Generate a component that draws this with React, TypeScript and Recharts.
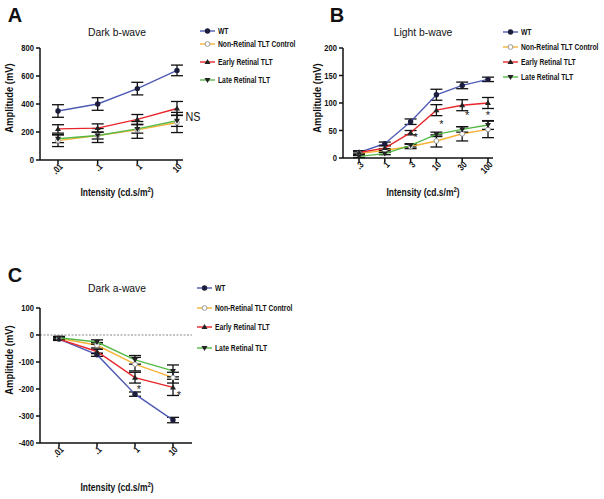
import React from "react";
import { LineChart, Line, XAxis, YAxis, ErrorBar, ReferenceLine } from "recharts";

// legend names
const seriesNames = ["WT", "Non-Retinal TLT Control", "Early Retinal TLT", "Late Retinal TLT"];

// A: dark b-wave
const darkBCats = [".01", ".1", "1", "10"];
const darkBWt = [350, 400, 510, 640];
const darkBWtErr = [45, 45, 45, 38];
const darkBCtrl = [138, 175, 215, 268];
const darkBCtrlErr = [42, 50, 60, 72];
const darkBEarly = [222, 228, 290, 368];
const darkBEarlyErr = [30, 30, 35, 50];
const darkBLate = [152, 175, 222, 280];
const darkBLateErr = [28, 25, 30, 40];
const darkBTicks = [0, 200, 400, 600, 800];

// B: light b-wave
const lightBCats = [".3", "1", "3", "10", "30", "100"];
const lightBWt = [10, 26, 66, 115, 132, 143];
const lightBWtErr = [3, 3, 5, 10, 6, 4];
const lightBCtrl = [8, 14, 21, 31, 44, 52];
const lightBCtrlErr = [3, 3, 4, 11, 13, 15];
const lightBEarly = [10, 18, 46, 87, 96, 100];
const lightBEarlyErr = [3, 4, 4, 10, 10, 10];
const lightBLate = [3, 8, 23, 43, 52, 60];
const lightBLateErr = [2, 2, 3, 4, 5, 8];
const lightBStars = [null, null, 44, 67, 84, 84];
const lightBTicks = [0, 50, 100, 150, 200];

// C: dark a-wave
const darkACats = [".01", ".1", "1", "10"];
const darkAWt = [-15, -73, -219, -315];
const darkAWtErr = [5, 6, 8, 10];
const darkACtrl = [-12, -38, -108, -158];
const darkACtrlErr = [5, 10, 25, 20];
const darkAEarly = [-15, -61, -158, -194];
const darkAEarlyErr = [5, 8, 20, 30];
const darkALate = [-10, -26, -92, -133];
const darkALateErr = [5, 8, 16, 22];
const darkAStars = [null, null, -189, -211];
const darkATicks = [-400, -300, -200, -100, 0, 100];

const colors = ["#4f5bb4", "#f6b338", "#e8262b", "#55b947"];
const FONT = "'Liberation Sans', Arial, sans-serif";

function rows(cats: string[], s: number[][], e: number[][], stars?: (number | null)[]) {
  return cats.map((c, i) => ({
    cat: c,
    wt: s[0][i], wtErr: e[0][i],
    ctrl: s[1][i], ctrlErr: e[1][i],
    early: s[2][i], earlyErr: e[2][i],
    late: s[3][i], lateErr: e[3][i],
    star: stars ? stars[i] : null,
  }));
}

function Marker({ kind, cx, cy }: { kind: number; cx: number; cy: number }) {
  if (cx == null || cy == null) return <g />;
  if (kind === 0) return <circle cx={cx} cy={cy} r={2.7} fill="#1c1c3c" />;
  if (kind === 1) return <circle cx={cx} cy={cy} r={2.4} fill="#fff" stroke="#999" strokeWidth={1} />;
  if (kind === 2)
    return <path d={`M${cx},${cy - 3}L${cx + 3},${cy + 2}L${cx - 3},${cy + 2}Z`} fill="#222" />;
  return <path d={`M${cx},${cy + 3}L${cx + 3},${cy - 2}L${cx - 3},${cy - 2}Z`} fill="#222" />;
}

const RotTick = (props: any) => {
  const { x, y, payload } = props;
  return (
    <g transform={`translate(${x + 3},${y - 1}) rotate(-45) scale(0.8,1)`}>
      <text x={0} y={0} dy="0.35em" textAnchor="end"
        fontSize={9.5} fontWeight="bold" fontFamily={FONT} fill="#111">
        {payload.value}
      </text>
    </g>
  );
};

const YTick = (props: any) => {
  const { x, y, payload } = props;
  return (
    <g transform={`translate(${x},${y}) scale(0.8,1)`}>
      <text x={0} y={0} dy="0.35em" textAnchor="end"
        fontSize={9.5} fontWeight="bold" fontFamily={FONT} fill="#111">
        {payload.value}
      </text>
    </g>
  );
};

const starDot = (dx: number[]) => (p: any) => {
  if (p.value == null || p.cy == null) return <g key={p.index} />;
  return (
    <text key={p.index} x={p.cx + dx[p.index]} y={p.cy + 7} fontSize={11} fontFamily={FONT}
      textAnchor="middle" fill="#222">*</text>
  );
};

function Panel(props: {
  data: any[]; ticks: number[]; domain: [number, number];
  left: number; top: number; width: number; height: number;
  margin: any; yWidth: number; pad: { left: number; right: number };
  starDx?: number[]; zeroLine?: boolean;
}) {
  const keys = ["wt", "ctrl", "early", "late"];
  return (
    <div style={{ position: "absolute", left: props.left, top: props.top }}>
      <LineChart width={props.width} height={props.height} data={props.data} margin={props.margin}>
        <XAxis dataKey="cat" padding={props.pad} height={30} tick={<RotTick />}
          stroke="#111" strokeWidth={1.5} tickSize={4} interval={0} />
        <YAxis domain={props.domain} ticks={props.ticks} width={props.yWidth} interval={0}
          stroke="#111" strokeWidth={1.5} tickSize={4} tickMargin={2} tick={<YTick />} />
        {props.zeroLine && <ReferenceLine y={0} stroke="#888" strokeDasharray="2 1.5" strokeWidth={1.2} />}
        {keys.map((k, i) => (
          <Line key={k} dataKey={k} stroke={colors[i]} strokeWidth={1.4} isAnimationActive={false}
            dot={(p: any) => <Marker key={p.index} kind={i} cx={p.cx} cy={p.cy} />} activeDot={false}>
            <ErrorBar dataKey={k + "Err"} width={6} stroke="#111" strokeWidth={1.3} />
          </Line>
        ))}
        {props.starDx && (
          <Line dataKey="star" stroke="none" isAnimationActive={false} dot={starDot(props.starDx)}
            activeDot={false} legendType="none" />
        )}
      </LineChart>
    </div>
  );
}

function Legend({ left, top, gaps }: { left: number; top: number; gaps: number[] }) {
  return (
    <>
      {seriesNames.map((n, i) => (
        <div key={n} style={{ position: "absolute", left, top: top + gaps[i] - 6, display: "flex",
          alignItems: "center", height: 12, fontSize: 9, fontWeight: "bold", color: "#111", whiteSpace: "nowrap" }}>
          <svg width={17} height={12} style={{ marginRight: 2 }}>
            <line x1={1} x2={16} y1={6} y2={6} stroke={colors[i]} strokeWidth={1.4} />
            <Marker kind={i} cx={8.5} cy={6} />
          </svg>
          <span style={{ display: "inline-block", transform: "scaleX(0.75)", transformOrigin: "left center" }}>{n}</span>
        </div>
      ))}
    </>
  );
}

function Txt({ x, y, size, bold, rot, sx = 1, children }: any) {
  return (
    <div style={{ position: "absolute", left: x, top: y,
      transform: `translate(-50%,-50%)${rot ? " rotate(-90deg)" : ""} scaleX(${sx})`,
      fontSize: size, fontWeight: bold ? "bold" : "normal", whiteSpace: "nowrap", color: "#111", lineHeight: 1 }}>
      {children}
    </div>
  );
}

export default function App() {
  const a = rows(darkBCats, [darkBWt, darkBCtrl, darkBEarly, darkBLate],
    [darkBWtErr, darkBCtrlErr, darkBEarlyErr, darkBLateErr]);
  const b = rows(lightBCats, [lightBWt, lightBCtrl, lightBEarly, lightBLate],
    [lightBWtErr, lightBCtrlErr, lightBEarlyErr, lightBLateErr], lightBStars);
  const c = rows(darkACats, [darkAWt, darkACtrl, darkAEarly, darkALate],
    [darkAWtErr, darkACtrlErr, darkAEarlyErr, darkALateErr], darkAStars);
  const xLabel = <>Intensity (cd.s/m<sup style={{ fontSize: 7, verticalAlign: "4px" }}>2</sup>)</>;
  return (
    <div style={{ position: "fixed", left: 0, top: 0, width: 604, height: 499, background: "#fff",
      fontFamily: FONT, overflow: "hidden" }}>
      {/* A */}
      <Txt x={15} y={15} size={20} bold>A</Txt>
      <Txt x={117} y={33} size={11.5} sx={0.9}>Dark b-wave</Txt>
      <Txt x={10} y={98} size={10} bold rot sx={0.94}>Amplitude (mV)</Txt>
      <Txt x={117} y={192} size={10} bold sx={0.85}>{xLabel}</Txt>
      <Txt x={193} y={117} size={12} sx={0.9}>NS</Txt>
      <Panel data={a} ticks={darkBTicks} domain={[0, 800]} left={0} top={0} width={200} height={215}
        margin={{ top: 48, right: 17, left: 0, bottom: 25 }} yWidth={40} pad={{ left: 18, right: 6 }} />
      <Legend left={199} top={0} gaps={[31, 44, 62, 80]} />

      {/* B */}
      <Txt x={337} y={15} size={20} bold>B</Txt>
      <Txt x={423} y={33} size={11.5} sx={0.9}>Light b-wave</Txt>
      <Txt x={318} y={98} size={10} bold rot sx={0.94}>Amplitude (mV)</Txt>
      <Txt x={423} y={192} size={10} bold sx={0.85}>{xLabel}</Txt>
      <Panel data={b} ticks={lightBTicks} domain={[0, 200]} left={300} top={0} width={200} height={215}
        margin={{ top: 48, right: 7, left: 0, bottom: 27 }} yWidth={43} pad={{ left: 16, right: 5 }}
        starDx={[0, 0, 5, 5, 5, 0]} />
      <Legend left={502} top={0} gaps={[32, 47, 62, 77]} />

      {/* C */}
      <Txt x={15} y={275} size={20} bold>C</Txt>
      <Txt x={117} y={289} size={11.5} sx={0.9}>Dark a-wave</Txt>
      <Txt x={10} y={360} size={10} bold rot sx={0.94}>Amplitude (mV)</Txt>
      <Txt x={117} y={487} size={10} bold sx={0.85}>{xLabel}</Txt>
      <Panel data={c} ticks={darkATicks} domain={[-400, 100]} left={0} top={250} width={210} height={235}
        margin={{ top: 58, right: 18, left: 0, bottom: 12 }} yWidth={40} pad={{ left: 19, right: 19 }}
        starDx={[0, 0, 4, 6]} zeroLine />
      <Legend left={196} top={250} gaps={[38, 58, 77, 98]} />
    </div>
  );
}
